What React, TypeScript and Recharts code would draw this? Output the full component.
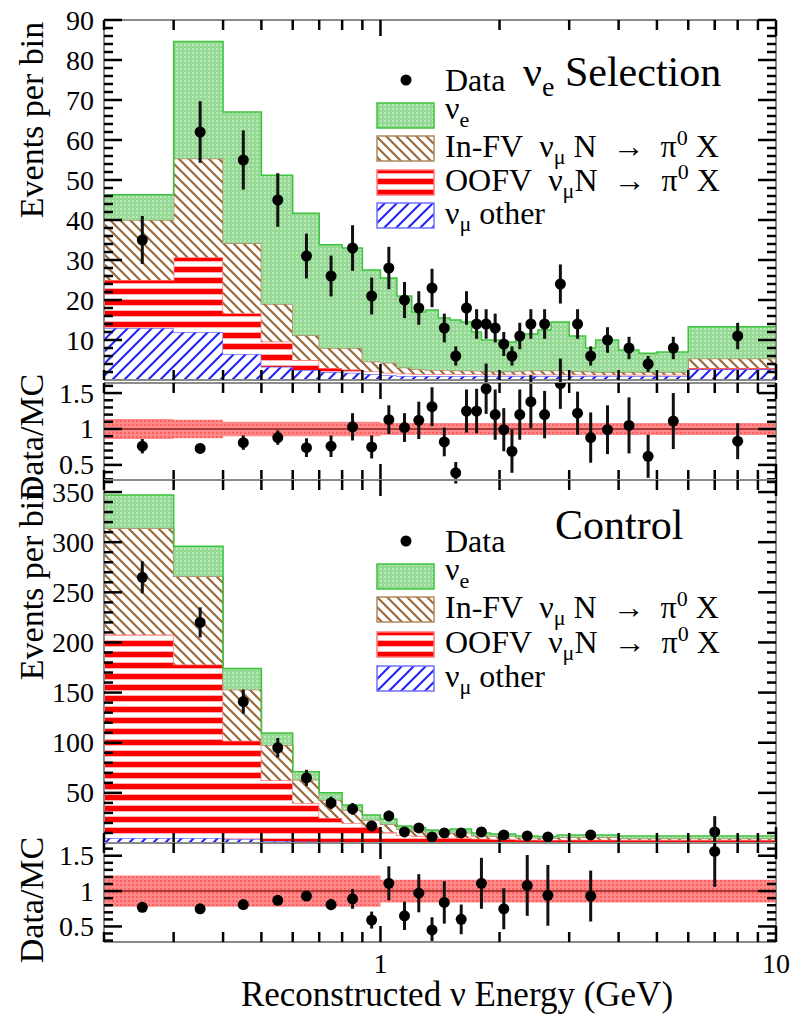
import React from 'react';
import { ComposedChart, Area, Scatter, ErrorBar, XAxis, YAxis, ReferenceLine } from 'recharts';

const W = 792;
const H = 1014;
const AX = 10;
const FONT = "'Liberation Serif', 'Times New Roman', serif";
const FRAME = '#8a8a8a';
const SP = '\u00A0';

// ---------- shared x axis (log, GeV) ----------
const xTicks = [0.2, 0.3, 0.4, 0.5, 0.6, 0.7, 0.8, 0.9, 1, 2, 3, 4, 5, 6, 7, 8, 9, 10];
const xMajor = [1, 10];

// ---------- nu_e Selection ----------
const selEdges = [0.2, 0.3, 0.4, 0.5, 0.6, 0.7, 0.8, 0.9, 1.0, 1.1, 1.2, 1.3, 1.4, 1.5, 1.6, 1.7, 1.8, 1.9, 2.0, 2.1, 2.2, 2.3, 2.5, 2.7, 3.0, 3.3, 3.5, 4.0, 4.5, 5.0, 6.0, 10];
const selNuMuOther = [13, 12, 6.5, 3.3, 2.5, 2, 1.8, 1.5, 1.2, 1, 1, 1, 1, 1, 1, 1, 1, 1, 1, 1, 1, 1, 1, 1, 1, 1, 1, 1, 1, 1, 2.7];
const selOOFV = [12, 18.7, 10.2, 6.3, 2.5, 1, 0.8, 0.7, 0.6, 0.6, 0.5, 0.5, 0.5, 0.5, 0.5, 0.5, 0.4, 0.4, 0.4, 0.4, 0.4, 0.4, 0.4, 0.4, 0.4, 0.3, 0.3, 0.3, 0.3, 0.3, 0.3];
const selInFV = [15, 24.7, 17.5, 9.4, 6.2, 5, 5.4, 2.4, 2.5, 1.5, 1.2, 1, 1, 0.9, 0.9, 0.8, 0.8, 0.7, 0.7, 0.7, 0.8, 1, 1, 1, 0.8, 0.8, 0.7, 0.7, 0.7, 0.7, 2.4];
const selNuE = [6.3, 29.2, 32.8, 32.2, 30.5, 25.8, 25, 22.9, 21.2, 17.9, 14.3, 15, 13, 12.6, 12.1, 9.7, 7.8, 7.9, 6.9, 7.4, 8.3, 9.1, 10.1, 12.1, 8.8, 5.9, 8, 5.5, 4.7, 5, 7.9];
const selDataX = [0.25, 0.35, 0.45, 0.55, 0.65, 0.75, 0.85, 0.95, 1.05, 1.15, 1.25, 1.35, 1.45, 1.55, 1.65, 1.75, 1.85, 1.95, 2.05, 2.15, 2.25, 2.4, 2.6, 2.85, 3.15, 3.4, 3.75, 4.25, 4.75, 5.5, 8];
const selDataY = [35, 62, 55, 45, 31, 26, 33, 21, 28, 20, 18, 23, 13, 6, 18, 14, 14, 13, 9, 6, 11, 14, 14, 24, 14, 6, 10, 8, 4, 8, 11];
const selDataErr = [6, 7.7, 7.4, 6.7, 5.6, 5.1, 5.7, 4.6, 5.3, 4.5, 4.2, 4.8, 3.6, 2.4, 4.2, 3.7, 3.7, 3.6, 3, 2.4, 3.3, 3.7, 3.7, 4.9, 3.7, 2.4, 3.2, 2.8, 2, 2.8, 3.3];
const selRatio = [0.76, 0.73, 0.81, 0.88, 0.74, 0.76, 1.03, 0.75, 1.13, 1.02, 1.12, 1.31, 0.82, 0.39, 1.25, 1.25, 1.56, 1.2, 0.99, 0.69, 1.2, 1.38, 1.2, 1.63, 1.22, 0.88, 0.99, 1.05, 0.62, 1.11, 0.83];
const selRatioErr = [0.1, 0.07, 0.1, 0.1, 0.13, 0.15, 0.19, 0.16, 0.2, 0.2, 0.26, 0.27, 0.2, 0.15, 0.3, 0.31, 0.35, 0.35, 0.3, 0.3, 0.35, 0.37, 0.33, 0.35, 0.3, 0.35, 0.34, 0.39, 0.3, 0.39, 0.25];
const selBandEdges = [0.2, 0.3, 0.4, 1.0, 10];
const selBandHalf = [0.14, 0.13, 0.1, 0.085];
const selYTicks = [2, 4, 6, 8, 10, 12, 14, 16, 18, 20, 22, 24, 26, 28, 30, 32, 34, 36, 38, 40, 42, 44, 46, 48, 50, 52, 54, 56, 58, 60, 62, 64, 66, 68, 70, 72, 74, 76, 78, 80, 82, 84, 86, 88, 90];
const selYLabels = [10, 20, 30, 40, 50, 60, 70, 80, 90];

// ---------- Control ----------
const ctlEdges = [0.2, 0.3, 0.4, 0.5, 0.6, 0.7, 0.8, 0.9, 1.0, 1.1, 1.2, 1.3, 1.4, 1.5, 1.7, 1.9, 2.2, 2.5, 2.8, 4.0, 10];
const ctlNuMuOther = [5, 5, 4, 2, 1.5, 1.2, 1, 1, 0.8, 0.8, 0.8, 0.8, 0.8, 0.8, 0.8, 0.8, 0.8, 0.8, 0.8, 0.8];
const ctlOOFV = [203, 173, 98, 60.7, 38.5, 23.8, 19, 15, 10, 7, 6, 5, 4.5, 4.5, 3.5, 3, 2.5, 2.3, 2.5, 2.2];
const ctlInFV = [106, 88, 51, 35, 23, 18, 13, 7, 8, 6, 5.5, 4.5, 4, 5, 3, 3, 2, 1.8, 2.5, 1.5];
const ctlNuE = [33, 30, 21, 12, 8, 7, 5, 5, 5.2, 3.2, 3.2, 2.7, 2.7, 3.7, 2.7, 2.2, 1.7, 1.6, 2.2, 2.5];
const ctlDataX = [0.25, 0.35, 0.45, 0.55, 0.65, 0.75, 0.85, 0.95, 1.05, 1.15, 1.25, 1.35, 1.45, 1.6, 1.8, 2.05, 2.35, 2.65, 3.4, 7];
const ctlDataY = [265, 220, 141, 95, 65, 40, 34, 17, 27, 11, 15, 6, 10, 10, 11, 8, 7, 6, 8, 11];
const ctlDataErr = [16, 15, 12, 9.7, 8, 6.3, 5.8, 4.1, 5.2, 3.3, 3.9, 2.4, 3.2, 3.2, 3.3, 2.8, 2.6, 2.4, 2.8, 3.3];
const ctlRatio = [0.77, 0.75, 0.81, 0.87, 0.93, 0.81, 0.89, 0.59, 1.11, 0.65, 0.97, 0.45, 0.84, 0.6, 1.11, 0.75, 1.08, 0.94, 0.93, 1.56];
const ctlRatioErr = [0.04, 0.04, 0.05, 0.06, 0.07, 0.08, 0.14, 0.12, 0.24, 0.2, 0.27, 0.18, 0.3, 0.21, 0.36, 0.29, 0.43, 0.43, 0.36, 0.5];
const ctlBandEdges = [0.2, 1.0, 10];
const ctlBandHalf = [0.22, 0.16];
const ctlYTicks = [10, 20, 30, 40, 50, 60, 70, 80, 90, 100, 110, 120, 130, 140, 150, 160, 170, 180, 190, 200, 210, 220, 230, 240, 250, 260, 270, 280, 290, 300, 310, 320, 330, 340, 350, 360];
const ctlYLabels = [50, 100, 150, 200, 250, 300, 350];

const ratioTicks = [0.3, 0.4, 0.5, 0.6, 0.7, 0.8, 0.9, 1, 1.1, 1.2, 1.3, 1.4, 1.5, 1.6];
const ratioLabels = [0.5, 1, 1.5];

const near = (a: number, list: number[]) => list.some((b) => Math.abs(a - b) < 1e-6);

function makeXTick(pos: 'bottom' | 'top', showLabels: boolean) {
  return (props: any) => {
    const { x, y, payload } = props;
    const v = payload.value;
    const maj = near(v, xMajor);
    const len = maj ? 16 : 10;
    const dir = pos === 'bottom' ? -1 : 1;
    return (
      <g>
        <line x1={x} x2={x} y1={y} y2={y + dir * len} stroke="#000" strokeWidth={2.5} />
        {showLabels && maj && pos === 'bottom' ? (
          <text x={x} y={y + 31} textAnchor="middle" fontSize={28} fontFamily={FONT} fill="#000">
            {v}
          </text>
        ) : null}
      </g>
    );
  };
}

function makeYTick(side: 'left' | 'right', majors: number[], labels: number[]) {
  return (props: any) => {
    const { x, y, payload } = props;
    const v = payload.value;
    const maj = near(v, majors);
    const len = maj ? 18 : 9;
    const dir = side === 'left' ? 1 : -1;
    return (
      <g>
        <line x1={x} x2={x + dir * len} y1={y} y2={y} stroke="#000" strokeWidth={2.5} />
        {side === 'left' && near(v, labels) ? (
          <text x={x - 10} y={y + 9.5} textAnchor="end" fontSize={28} fontFamily={FONT} fill="#000">
            {v}
          </text>
        ) : null}
      </g>
    );
  };
}

function Patterns({ id }: { id: string }) {
  return (
    <defs>
      <pattern id={`${id}-green`} patternUnits="userSpaceOnUse" width={4} height={4}>
        <rect width={4} height={4} fill="#95d995" />
        <rect width={2} height={2} fill="#b9e9b9" />
      </pattern>
      <pattern id={`${id}-brown`} patternUnits="userSpaceOnUse" width={10} height={10}>
        <rect width={10} height={10} fill="#fff" />
        <path d="M-2,-2 L12,12 M-7,3 L3,13 M3,-7 L13,3" stroke="#9c6b3c" strokeWidth={2.2} />
      </pattern>
      <pattern id={`${id}-red`} patternUnits="userSpaceOnUse" width={12} height={11}>
        <rect width={12} height={11} fill="#fff" />
        <rect y={2} width={12} height={1} fill="#ffb0b0" />
        <rect y={3} width={12} height={5} fill="#ff0000" />
        <rect y={8} width={12} height={1} fill="#ffb0b0" />
      </pattern>
      <pattern id={`${id}-blue`} patternUnits="userSpaceOnUse" width={12} height={12}>
        <rect width={12} height={12} fill="#fff" />
        <path d="M-2,14 L14,-2 M-8,8 L8,-8 M4,20 L20,4" stroke="#2020ff" strokeWidth={2} />
      </pattern>
      <pattern id={`${id}-band`} patternUnits="userSpaceOnUse" width={4} height={4}>
        <rect width={4} height={4} fill="#ff7c7c" />
        <rect width={2} height={2} fill="#ff4f4f" />
      </pattern>
    </defs>
  );
}

const dotShape = (p: any) => <circle cx={p.cx} cy={p.cy} r={5.5} fill="#000" />;

type MainProps = {
  id: string;
  top: number;
  bottom: number;
  yMax: number;
  yTicks: number[];
  yLabels: number[];
  yMajorStep: number[];
  edges: number[];
  nuMuOther: number[];
  oofv: number[];
  infv: number[];
  nue: number[];
  dx: number[];
  dy: number[];
  derr: number[];
};

function MainPanel(p: MainProps) {
  const rows = p.edges.map((x, i) => {
    const k = Math.min(i, p.nue.length - 1);
    return { x, other: p.nuMuOther[k], oofv: p.oofv[k], infv: p.infv[k], nue: p.nue[k] };
  });
  const pts = p.dx.map((x, i) => ({ x, y: p.dy[i], err: p.derr[i] }));
  return (
    <div style={{ position: 'absolute', left: 0, top: 0 }}>
      <ComposedChart width={W} height={H} data={rows} margin={{ top: p.top - AX, bottom: H - p.bottom - AX, left: 0, right: 0 }}>
        <Patterns id={p.id} />
        <Area type="stepAfter" dataKey="other" stackId="mc" fill={`url(#${p.id}-blue)`} fillOpacity={1} stroke="#7070ff" strokeWidth={1.5} isAnimationActive={false} dot={false} activeDot={false} />
        <Area type="stepAfter" dataKey="oofv" stackId="mc" fill={`url(#${p.id}-red)`} fillOpacity={1} stroke="#ff7a7a" strokeWidth={1.5} isAnimationActive={false} dot={false} activeDot={false} />
        <Area type="stepAfter" dataKey="infv" stackId="mc" fill={`url(#${p.id}-brown)`} fillOpacity={1} stroke="#b08860" strokeWidth={1.5} isAnimationActive={false} dot={false} activeDot={false} />
        <Area type="stepAfter" dataKey="nue" stackId="mc" fill={`url(#${p.id}-green)`} fillOpacity={1} stroke="#3cc43c" strokeWidth={1.5} isAnimationActive={false} dot={false} activeDot={false} />
        <Scatter data={pts} dataKey="y" shape={dotShape} isAnimationActive={false}>
          <ErrorBar dataKey="err" direction="y" width={0} stroke="#111" strokeWidth={3} />
        </Scatter>
        <XAxis dataKey="x" type="number" scale="log" domain={[0.2, 10]} allowDataOverflow ticks={xTicks} interval={0} height={AX} tickSize={0} tickMargin={0} tickLine={false} axisLine={{ stroke: FRAME, strokeWidth: 2 }} tick={makeXTick('bottom', false)} />
        <XAxis xAxisId="t" orientation="top" dataKey="x" type="number" scale="log" domain={[0.2, 10]} allowDataOverflow ticks={xTicks} interval={0} height={AX} tickSize={0} tickMargin={0} tickLine={false} axisLine={{ stroke: FRAME, strokeWidth: 2 }} tick={makeXTick('top', false)} />
        <YAxis type="number" domain={[0, p.yMax]} allowDataOverflow ticks={p.yTicks} interval={0} width={104} tickSize={0} tickMargin={0} tickLine={false} axisLine={{ stroke: FRAME, strokeWidth: 2 }} tick={makeYTick('left', p.yMajorStep, p.yLabels)} />
        <YAxis yAxisId="r" orientation="right" type="number" domain={[0, p.yMax]} allowDataOverflow ticks={p.yTicks} interval={0} width={16} tickSize={0} tickMargin={0} tickLine={false} axisLine={{ stroke: FRAME, strokeWidth: 2 }} tick={makeYTick('right', p.yMajorStep, [])} />
      </ComposedChart>
    </div>
  );
}

type RatioProps = {
  id: string;
  top: number;
  bottom: number;
  yMin: number;
  yMax: number;
  bandEdges: number[];
  bandHalf: number[];
  dx: number[];
  r: number[];
  rerr: number[];
  showXLabels: boolean;
};

function RatioPanel(p: RatioProps) {
  const rows = p.bandEdges.map((x, i) => {
    const h = p.bandHalf[Math.min(i, p.bandHalf.length - 1)];
    return { x, band: [1 - h, 1 + h] };
  });
  const pts = p.dx.map((x, i) => ({ x, y: p.r[i], err: p.rerr[i] }));
  return (
    <div style={{ position: 'absolute', left: 0, top: 0 }}>
      <ComposedChart width={W} height={H} data={rows} margin={{ top: p.top - AX, bottom: H - p.bottom - AX, left: 0, right: 0 }}>
        <Patterns id={p.id} />
        <Area type="stepAfter" dataKey="band" fill={`url(#${p.id}-band)`} fillOpacity={0.9} stroke="none" isAnimationActive={false} dot={false} activeDot={false} />
        <ReferenceLine y={1} stroke="#a83a3a" strokeWidth={2} ifOverflow="hidden" />
        <Scatter data={pts} dataKey="y" shape={dotShape} isAnimationActive={false}>
          <ErrorBar dataKey="err" direction="y" width={0} stroke="#111" strokeWidth={3} />
        </Scatter>
        <XAxis dataKey="x" type="number" scale="log" domain={[0.2, 10]} allowDataOverflow ticks={xTicks} interval={0} height={AX} tickSize={0} tickMargin={0} tickLine={false} axisLine={{ stroke: FRAME, strokeWidth: 2 }} tick={makeXTick('bottom', p.showXLabels)} />
        <XAxis xAxisId="t" orientation="top" dataKey="x" type="number" scale="log" domain={[0.2, 10]} allowDataOverflow ticks={xTicks} interval={0} height={AX} tickSize={0} tickMargin={0} tickLine={false} axisLine={{ stroke: FRAME, strokeWidth: 2 }} tick={makeXTick('top', false)} />
        <YAxis type="number" domain={[p.yMin, p.yMax]} allowDataOverflow ticks={ratioTicks} interval={0} width={104} tickSize={0} tickMargin={0} tickLine={false} axisLine={{ stroke: FRAME, strokeWidth: 2 }} tick={makeYTick('left', ratioLabels, ratioLabels)} />
        <YAxis yAxisId="r" orientation="right" type="number" domain={[p.yMin, p.yMax]} allowDataOverflow ticks={ratioTicks} interval={0} width={16} tickSize={0} tickMargin={0} tickLine={false} axisLine={{ stroke: FRAME, strokeWidth: 2 }} tick={makeYTick('right', ratioLabels, [])} />
      </ComposedChart>
    </div>
  );
}

function LegendBlock({ dataY, rows }: { dataY: number; rows: number[] }) {
  const bx = 377;
  const bw = 57;
  const tx = 445;
  const fs = 32;
  const sub = 22;
  return (
    <g fontFamily={FONT} fill="#000">
      <circle cx={406} cy={dataY - 11} r={5.5} fill="#000" />
      <text x={tx} y={dataY} fontSize={fs}>Data</text>

      <rect x={bx} y={rows[0] - 21} width={bw} height={25} fill="url(#lg-green)" stroke="#3cc43c" strokeWidth={1.5} />
      <text x={tx} y={rows[0] - 5} fontSize={fs}>
        ν<tspan dy={8} fontSize={sub}>e</tspan>
      </text>

      <rect x={bx} y={rows[1] - 21} width={bw} height={25} fill="url(#lg-brown)" stroke="#b08860" strokeWidth={1.5} />
      <text x={tx} y={rows[1]} fontSize={fs}>
        {`In-FV${SP}${SP}ν`}
        <tspan dy={7} fontSize={sub}>μ</tspan>
        <tspan dy={-7}>{`${SP}N${SP}${SP}→${SP}${SP}π`}</tspan>
        <tspan dy={-12} fontSize={sub}>0</tspan>
        <tspan dy={12}>{`${SP}X`}</tspan>
      </text>

      <rect x={bx} y={rows[2] - 21} width={bw} height={25} fill="url(#lg-red)" stroke="#ff7a7a" strokeWidth={1.5} />
      <text x={tx} y={rows[2]} fontSize={fs}>
        {`OOFV${SP}${SP}ν`}
        <tspan dy={7} fontSize={sub}>μ</tspan>
        <tspan dy={-7}>{`N${SP}${SP}→${SP}${SP}π`}</tspan>
        <tspan dy={-12} fontSize={sub}>0</tspan>
        <tspan dy={12}>{`${SP}X`}</tspan>
      </text>

      <rect x={bx} y={rows[3] - 21} width={bw} height={25} fill="url(#lg-blue)" stroke="#7070ff" strokeWidth={1.5} />
      <text x={tx} y={rows[3]} fontSize={fs}>
        ν<tspan dy={7} fontSize={sub}>μ</tspan>
        <tspan dy={-7}>{`${SP}other`}</tspan>
      </text>
    </g>
  );
}

function Overlay() {
  return (
    <svg width={W} height={H} style={{ position: 'absolute', left: 0, top: 0, pointerEvents: 'none' }}>
      <Patterns id="lg" />
      <g fontFamily={FONT} fill="#000">
        <text transform="translate(43,120) rotate(-90)" textAnchor="middle" fontSize={34}>Events per bin</text>
        <text transform="translate(43,437) rotate(-90)" textAnchor="middle" fontSize={34}>Data/MC</text>
        <text transform="translate(43,582) rotate(-90)" textAnchor="middle" fontSize={34}>Events per bin</text>
        <text transform="translate(43,900) rotate(-90)" textAnchor="middle" fontSize={34}>Data/MC</text>
        <text x={457} y={1006} textAnchor="middle" fontSize={35}>Reconstructed ν Energy (GeV)</text>
        <text x={523} y={86} fontSize={42}>
          ν<tspan dy={10} fontSize={28}>e</tspan>
          <tspan dy={-10}>{`${SP}Selection`}</tspan>
        </text>
        <text x={555} y={539} fontSize={42}>Control</text>
      </g>
      <LegendBlock dataY={91} rows={[124, 157, 191, 224]} />
      <LegendBlock dataY={552} rows={[585, 618, 653, 687]} />
    </svg>
  );
}

export default function App() {
  return (
    <div style={{ position: 'absolute', left: 0, top: 0, width: W, height: H, background: '#fff' }}>
      <MainPanel
        id="sel"
        top={20}
        bottom={380}
        yMax={90}
        yTicks={selYTicks}
        yLabels={selYLabels}
        yMajorStep={selYLabels}
        edges={selEdges}
        nuMuOther={selNuMuOther}
        oofv={selOOFV}
        infv={selInFV}
        nue={selNuE}
        dx={selDataX}
        dy={selDataY}
        derr={selDataErr}
      />
      <RatioPanel id="selr" top={383} bottom={480} yMin={0.29} yMax={1.64} bandEdges={selBandEdges} bandHalf={selBandHalf} dx={selDataX} r={selRatio} rerr={selRatioErr} showXLabels={false} />
      <MainPanel
        id="ctl"
        top={480}
        bottom={843}
        yMax={362}
        yTicks={ctlYTicks}
        yLabels={ctlYLabels}
        yMajorStep={ctlYLabels}
        edges={ctlEdges}
        nuMuOther={ctlNuMuOther}
        oofv={ctlOOFV}
        infv={ctlInFV}
        nue={ctlNuE}
        dx={ctlDataX}
        dy={ctlDataY}
        derr={ctlDataErr}
      />
      <RatioPanel id="ctlr" top={843} bottom={942} yMin={0.28} yMax={1.68} bandEdges={ctlBandEdges} bandHalf={ctlBandHalf} dx={ctlDataX} r={ctlRatio} rerr={ctlRatioErr} showXLabels={true} />
      <Overlay />
    </div>
  );
}
